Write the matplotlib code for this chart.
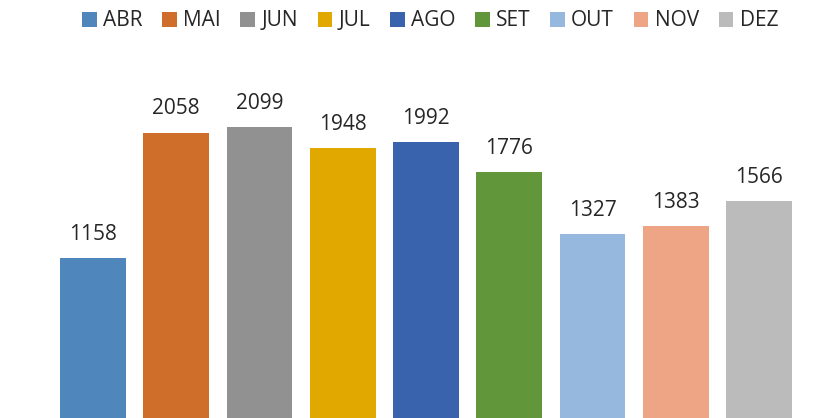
import matplotlib
matplotlib.use("Agg")
import matplotlib.pyplot as plt
from matplotlib.patches import Patch

months = ["ABR", "MAI", "JUN", "JUL", "AGO", "SET", "OUT", "NOV", "DEZ"]
values = [1158, 2058, 2099, 1948, 1992, 1776, 1327, 1383, 1566]
colors = ["#4f87bc", "#cf6d2a", "#919191", "#e1a800", "#3a63ad",
          "#62963b", "#96b8de", "#eda586", "#bbbbbb"]

plt.rcParams['font.family'] = ['Open Sans', 'DejaVu Sans']
txt = '#262626'

fig = plt.figure(figsize=(8.31, 4.18), dpi=100)
top = (418 - 60) / 418
ax = fig.add_axes([0, 0, 1, top])

x = list(range(len(months)))
ax.bar(x, values, width=0.79, color=colors)

for xi, v in zip(x, values):
    ax.annotate(str(v), (xi, v), xytext=(0, 17), textcoords='offset points',
                ha='center', va='center', fontsize=15, color=txt)

ax.set_xlim(-93 / 83.25, 8 + 72 / 83.25)
ax.set_ylim(7, 2579)
ax.axis('off')

handles = [Patch(facecolor=c, edgecolor='none') for c in colors]
fig.legend(handles, months, loc='center', bbox_to_anchor=(430 / 831, 1 - 21 / 418),
           ncol=9, frameon=False, fontsize=15, handlelength=0.7, handleheight=0.7,
           handletextpad=0.3, columnspacing=0.95, labelcolor=txt)

fig.savefig("out.png", dpi=100)
